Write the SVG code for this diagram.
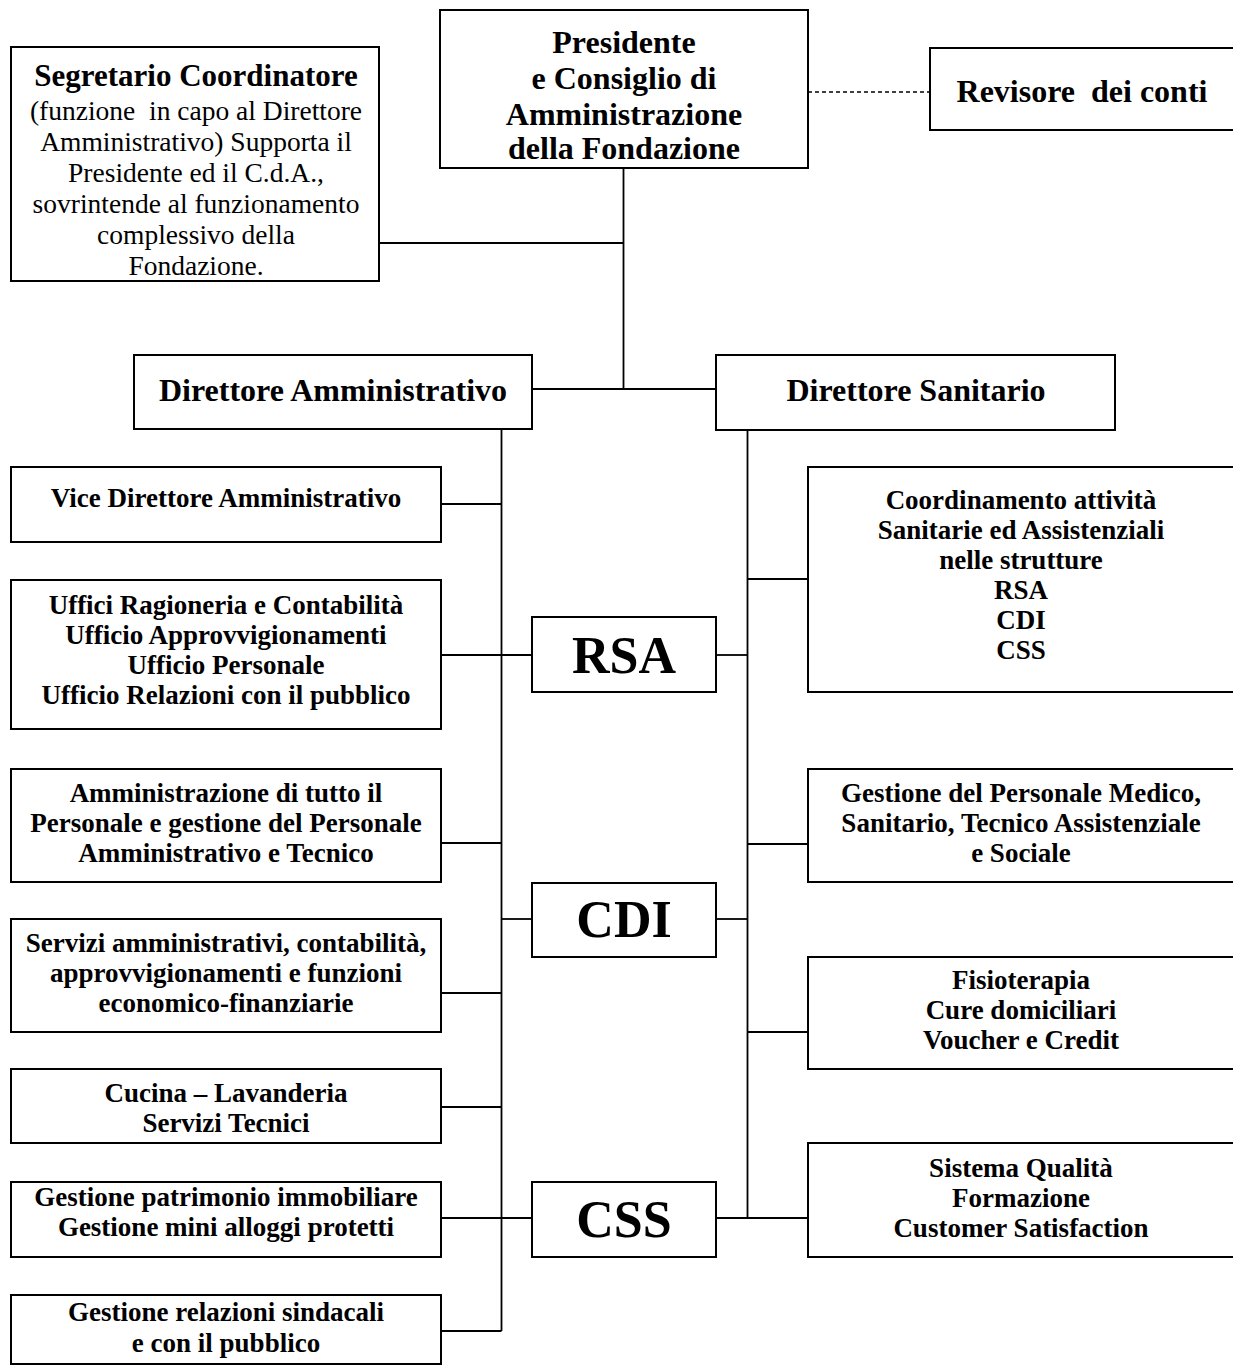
<svg xmlns="http://www.w3.org/2000/svg" width="1233" height="1366" viewBox="0 0 1233 1366">
<style>
  .box { fill: #fff; stroke: #000; stroke-width: 2; }
  .conn { fill: none; stroke: #000; stroke-width: 1.8; }
  .dash { fill: none; stroke: #000; stroke-width: 1.5; stroke-dasharray: 4 3; }
  text { font-family: "Liberation Serif", "Times New Roman", serif; fill: #000; text-anchor: middle; }
  .t { font-size: 27px; font-weight: bold; }
  .h { font-size: 32px; font-weight: bold; }
  .s { font-size: 31px; font-weight: bold; }
  .b { font-size: 27.5px; }
  .big { font-size: 52px; font-weight: bold; }
</style>
<rect width="1233" height="1366" fill="#fff"/>
<g id="connectors">
  <path class="conn" d="M623.5 168 V389"/>
  <path class="conn" d="M379 243 H623.5"/>
  <path class="dash" d="M808 92 H930"/>
  <path class="conn" d="M532 389 H716"/>
  <path class="conn" d="M501.5 429 V1331"/>
  <path class="conn" d="M441 504 H501.5"/>
  <path class="conn" d="M441 655 H532"/>
  <path class="conn" d="M441 843 H501.5"/>
  <path class="conn" d="M501.5 919 H532"/>
  <path class="conn" d="M441 993 H501.5"/>
  <path class="conn" d="M441 1107 H501.5"/>
  <path class="conn" d="M441 1218 H532"/>
  <path class="conn" d="M441 1331 H501.5"/>
  <path class="conn" d="M747.5 430 V1218"/>
  <path class="conn" d="M747.5 579 H808"/>
  <path class="conn" d="M716 655 H747.5"/>
  <path class="conn" d="M747.5 844 H808"/>
  <path class="conn" d="M716 919 H747.5"/>
  <path class="conn" d="M747.5 1032 H808"/>
  <path class="conn" d="M716 1218 H808"/>
</g>
<g id="presidente">
  <rect class="box" x="440" y="10" width="368" height="158"/>
  <text class="h" x="624" y="53">Presidente</text>
  <text class="h" x="624" y="89">e Consiglio di</text>
  <text class="h" x="624" y="125">Amministrazione</text>
  <text class="h" x="624" y="159">della Fondazione</text>
</g>
<g id="revisore">
  <rect class="box" x="930" y="48" width="310" height="82"/>
  <text class="h" x="1082" y="102">Revisore&#160; dei conti</text>
</g>
<g id="segretario">
  <rect class="box" x="11" y="47" width="368" height="234"/>
  <text class="s" x="196" y="86">Segretario Coordinatore</text>
  <text class="b" x="196" y="120">(funzione&#160; in capo al Direttore</text>
  <text class="b" x="196" y="151">Amministrativo) Supporta il</text>
  <text class="b" x="196" y="182">Presidente ed il C.d.A.,</text>
  <text class="b" x="196" y="213">sovrintende al funzionamento</text>
  <text class="b" x="196" y="244">complessivo della</text>
  <text class="b" x="196" y="275">Fondazione.</text>
</g>
<g id="dir-amm">
  <rect class="box" x="134" y="355" width="398" height="74"/>
  <text class="h" x="333" y="401">Direttore Amministrativo</text>
</g>
<g id="dir-san">
  <rect class="box" x="716" y="355" width="399" height="75"/>
  <text class="h" x="916" y="401">Direttore Sanitario</text>
</g>
<g id="vice">
  <rect class="box" x="11" y="467" width="430" height="75"/>
  <text class="t" x="226" y="507">Vice Direttore Amministrativo</text>
</g>
<g id="uffici">
  <rect class="box" x="11" y="580" width="430" height="149"/>
  <text class="t" x="226" y="614">Uffici Ragioneria e Contabilità</text>
  <text class="t" x="226" y="644">Ufficio Approvvigionamenti</text>
  <text class="t" x="226" y="674">Ufficio Personale</text>
  <text class="t" x="226" y="704">Ufficio Relazioni con il pubblico</text>
</g>
<g id="rsa">
  <rect class="box" x="532" y="617" width="184" height="75"/>
  <text class="big" x="624" y="673">RSA</text>
</g>
<g id="coordinamento">
  <rect class="box" x="808" y="467" width="432" height="225"/>
  <text class="t" x="1021" y="509">Coordinamento attività</text>
  <text class="t" x="1021" y="539">Sanitarie ed Assistenziali</text>
  <text class="t" x="1021" y="569">nelle strutture</text>
  <text class="t" x="1021" y="599">RSA</text>
  <text class="t" x="1021" y="629">CDI</text>
  <text class="t" x="1021" y="659">CSS</text>
</g>
<g id="amministrazione">
  <rect class="box" x="11" y="769" width="430" height="113"/>
  <text class="t" x="226" y="802">Amministrazione di tutto il</text>
  <text class="t" x="226" y="832">Personale e gestione del Personale</text>
  <text class="t" x="226" y="862">Amministrativo e Tecnico</text>
</g>
<g id="gestione-personale">
  <rect class="box" x="808" y="769" width="432" height="113"/>
  <text class="t" x="1021" y="802">Gestione del Personale Medico,</text>
  <text class="t" x="1021" y="832">Sanitario, Tecnico Assistenziale</text>
  <text class="t" x="1021" y="862">e Sociale</text>
</g>
<g id="cdi">
  <rect class="box" x="532" y="883" width="184" height="74"/>
  <text class="big" x="624" y="937">CDI</text>
</g>
<g id="servizi">
  <rect class="box" x="11" y="919" width="430" height="113"/>
  <text class="t" x="226" y="952">Servizi amministrativi, contabilità,</text>
  <text class="t" x="226" y="982">approvvigionamenti e funzioni</text>
  <text class="t" x="226" y="1012">economico-finanziarie</text>
</g>
<g id="fisioterapia">
  <rect class="box" x="808" y="957" width="432" height="112"/>
  <text class="t" x="1021" y="989">Fisioterapia</text>
  <text class="t" x="1021" y="1019">Cure domiciliari</text>
  <text class="t" x="1021" y="1049">Voucher e Credit</text>
</g>
<g id="cucina">
  <rect class="box" x="11" y="1069" width="430" height="74"/>
  <text class="t" x="226" y="1102">Cucina – Lavanderia</text>
  <text class="t" x="226" y="1132">Servizi Tecnici</text>
</g>
<g id="sistema">
  <rect class="box" x="808" y="1143" width="432" height="114"/>
  <text class="t" x="1021" y="1177">Sistema Qualità</text>
  <text class="t" x="1021" y="1207">Formazione</text>
  <text class="t" x="1021" y="1237">Customer Satisfaction</text>
</g>
<g id="patrimonio">
  <rect class="box" x="11" y="1182" width="430" height="75"/>
  <text class="t" x="226" y="1206">Gestione patrimonio immobiliare</text>
  <text class="t" x="226" y="1236">Gestione mini alloggi protetti</text>
</g>
<g id="css">
  <rect class="box" x="532" y="1182" width="184" height="75"/>
  <text class="big" x="624" y="1237">CSS</text>
</g>
<g id="relazioni">
  <rect class="box" x="11" y="1295" width="430" height="69"/>
  <text class="t" x="226" y="1321">Gestione relazioni sindacali</text>
  <text class="t" x="226" y="1352">e con il pubblico</text>
</g>
</svg>
